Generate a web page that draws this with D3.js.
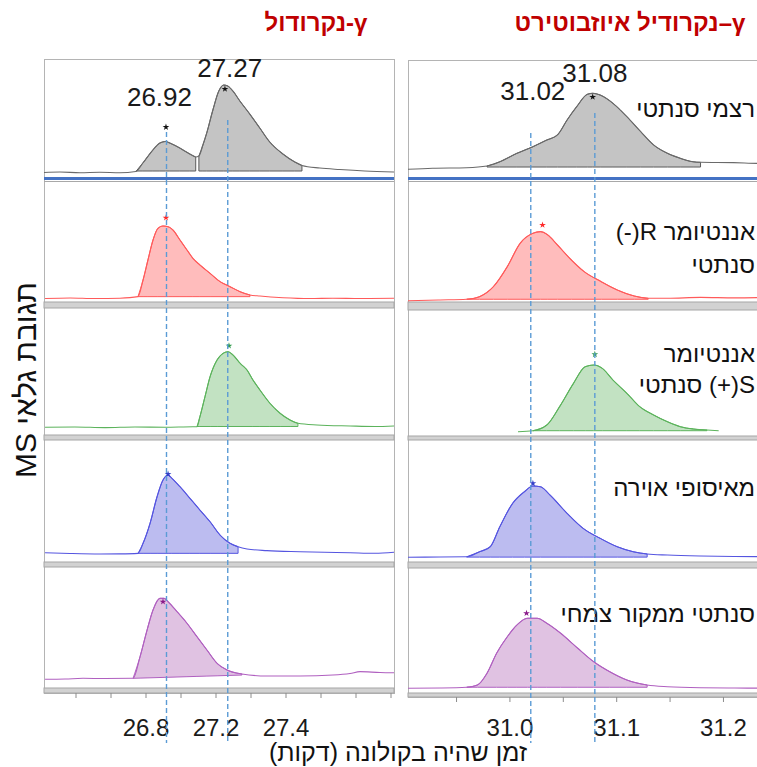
<!DOCTYPE html>
<html>
<head>
<meta charset="utf-8">
<script src="https://cdn.jsdelivr.net/npm/d3@7"></script>
<style>
  body { margin: 0; background: #fff; }
  svg { display: block; font-family: "Liberation Sans", Arial, "DejaVu Sans", sans-serif; }
</style>
</head>
<body>
<svg id="chart" width="757" height="767"></svg>
<script>
// ---------- data: retention time (min) vs. relative detector response ----------
// γ-nonalactone (left column)
const ndRacemic = [[26.22,3.0],[26.311,3.4],[26.426,2.8],[26.539,3.2],[26.654,2.8],[26.745,3.9],[26.785,11.2],[26.842,22.4],[26.882,28.4],[26.915,29.8],[26.939,28.4],[26.996,24.1],[27.053,19.0],[27.087,16.4],[27.105,17.2],[27.128,26.7],[27.150,37.1],[27.185,56.9],[27.219,73.3],[27.247,78.4],[27.270,77.6],[27.299,73.3],[27.339,64.7],[27.396,53.4],[27.453,41.4],[27.510,29.3],[27.585,19.0],[27.653,12.1],[27.694,9.1],[27.796,6.9],[27.910,5.6],[28.053,4.3],[28.22,3.4]];
const ndR = [[26.226,2.9],[26.369,3.4],[26.511,2.9],[26.654,3.2],[26.757,4.5],[26.786,18.5],[26.814,35.3],[26.843,52.1],[26.871,61.9],[26.900,63.9],[26.929,63.3],[26.957,60.5],[26.997,52.1],[27.037,43.7],[27.071,36.7],[27.111,31.1],[27.169,24.1],[27.226,17.1],[27.283,12.9],[27.340,8.7],[27.397,5.9],[27.454,5.0],[27.586,3.6],[27.740,2.9],[27.871,3.2],[28.026,2.9],[28.22,3.1]];
const ndS = [[26.226,6.1],[26.397,6.3],[26.569,5.8],[26.740,6.3],[26.911,6.1],[27.071,6.5],[27.094,6.5],[27.111,14.4],[27.140,30.2],[27.169,45.9],[27.209,59.1],[27.243,64.3],[27.271,65.6],[27.300,63.0],[27.340,56.5],[27.380,51.2],[27.414,43.3],[27.454,35.4],[27.511,25.0],[27.569,17.1],[27.626,11.8],[27.671,9.2],[27.780,7.9],[27.969,7.1],[28.111,6.7],[28.22,7.1]];
const ndAir = [[26.226,7.6],[26.369,7.0],[26.540,6.6],[26.654,6.7],[26.757,7.1],[26.786,15.3],[26.826,31.7],[26.866,53.5],[26.900,67.2],[26.929,71.3],[26.951,68.6],[26.997,61.7],[27.054,52.2],[27.111,42.6],[27.169,33.0],[27.226,22.1],[27.283,15.3],[27.329,12.5],[27.380,10.7],[27.494,9.3],[27.683,8.4],[27.969,7.6],[28.111,7.2],[28.22,8.0]];
const ndPlant = [[26.226,7.2],[26.340,7.4],[26.443,8.0],[26.569,7.8],[26.729,8.0],[26.769,25.9],[26.809,47.9],[26.843,64.5],[26.883,74.1],[26.906,74.1],[26.929,71.3],[26.980,63.1],[27.037,53.5],[27.094,42.4],[27.151,31.4],[27.209,20.4],[27.266,14.9],[27.351,11.6],[27.494,9.9],[27.683,9.9],[27.871,10.7],[27.969,12.0],[28.026,13.5],[28.140,12.8],[28.22,12.6]];

// γ-nonalactone isobutyrate (right column)
const nbRacemic = [[30.905,5.8],[30.928,6.7],[30.960,7.2],[30.979,8.7],[30.991,12.4],[31.007,19.7],[31.022,25.5],[31.035,31.3],[31.045,35.7],[31.054,48.7],[31.063,60.3],[31.073,71.0],[31.078,71.9],[31.085,70.4],[31.097,63.2],[31.110,51.6],[31.123,38.5],[31.135,27.0],[31.148,19.7],[31.160,15.4],[31.172,12.4],[31.179,11.9],[31.210,11.6],[31.232,11.0],[31.245,10.9]];
const nbR = [[30.905,1.1],[30.935,1.7],[30.960,2.3],[30.972,4.5],[30.985,12.9],[30.998,29.7],[31.010,49.3],[31.022,57.7],[31.029,59.1],[31.036,56.3],[31.045,47.9],[31.058,35.3],[31.070,25.5],[31.086,17.1],[31.101,10.1],[31.117,5.0],[31.130,3.1],[31.148,3.1],[31.179,3.9],[31.211,3.5],[31.245,3.9]];
const nbS = [[31.008,3.4],[31.022,4.2],[31.035,8.7],[31.047,23.3],[31.060,41.8],[31.071,55.0],[31.079,56.3],[31.087,53.7],[31.097,44.4],[31.110,33.9],[31.122,23.3],[31.135,16.7],[31.148,11.3],[31.160,7.4],[31.172,5.6],[31.185,4.8],[31.196,4.2]];
const nbAir = [[30.905,3.9],[30.935,4.1],[30.960,4.3],[30.972,8.4],[30.982,12.5],[30.991,28.9],[31.003,48.1],[31.014,57.6],[31.022,62.3],[31.029,61.7],[31.038,54.9],[31.054,39.9],[31.069,27.6],[31.085,19.4],[31.101,12.5],[31.116,8.4],[31.129,6.6],[31.148,5.7],[31.179,4.9],[31.211,4.5],[31.245,4.3]];
const nbPlant = [[30.905,3.8],[30.935,4.0],[30.960,4.6],[30.970,6.4],[30.979,15.8],[30.988,31.8],[30.998,45.0],[31.007,54.4],[31.017,59.8],[31.026,59.8],[31.035,55.8],[31.048,47.8],[31.064,35.8],[31.079,25.0],[31.094,17.0],[31.110,10.4],[31.129,6.4],[31.148,5.0],[31.179,4.2],[31.211,4.0],[31.245,3.8]];

// integration windows: [start, end, baseline at start, baseline at end]
const ndRacemicFill = [[26.745,27.087,4.3,4.3],[27.105,27.694,4.3,4.3]];
const ndRFill = [[26.757,27.397,4.5,4.5]];
const ndSFill = [[27.094,27.671,6.7,6.7]];
const ndAirFill = [[26.757,27.329,7.1,7.1]];
const ndPlantFill = [[26.729,27.351,8.0,10.7]];
const nbRacemicFill = [[30.979,31.179,7.8,7.8]];
const nbRFill = [[30.960,31.130,2.3,2.3]];
const nbSFill = [[31.022,31.185,4.2,4.2]];
const nbAirFill = [[30.960,31.129,4.0,4.0]];
const nbPlantFill = [[30.960,31.129,4.6,4.6]];

// detected apex markers [time, response]
const ndRacemicApex = [[26.917,42.2],[27.254,75.0]];
const ndRApex = [[26.917,70.8]];
const ndSApex = [[27.277,70.3]];
const ndAirApex = [[26.929,72.1]];
const ndPlantApex = [[26.900,71.3]];
const nbRacemicApex = [[31.078,68.7]];
const nbRApex = [[31.031,64.7]];
const nbSApex = [[31.080,64.8]];
const nbAirApex = [[31.022,64.5]];
const nbPlantApex = [[31.016,63.8]];

// reference retention times of the racemic standards
const ndPeaks = [26.92, 27.27];
const nbPeaks = [31.02, 31.08];

// axis ticks
const ndMinorTicks = [26.4,26.6,26.8,27.0,27.2,27.4,27.6,27.8,28.0,28.2];
const ndLabelTicks = [26.8, 27.2, 27.6];
const ndTickLabels = ["26.8", "27.2", "27.4"];
const nbMinorTicks = [30.95,31.0,31.05,31.1,31.15,31.2,31.25];
const nbLabelTicks = [31.0, 31.1, 31.2];
const nbTickLabels = ["31.0", "31.1", "31.2"];

// sample names (right-hand labels), one or two lines per row
const sampleLabels = [["רצמי סנתטי"], ["אננטיומר R(-)", "סנתטי"], ["אננטיומר", "S(+) סנתטי"], ["מאיסופי אוירה"], ["סנתטי ממקור צמחי"]];

const titleLeft = "γ-נקרודול";
const titleRight = "γ–נקרודיל איוזבוטירט";
const yTitle = "תגובת גלאי MS";
const xTitle = "זמן שהיה בקולונה (דקות)";

// ---------- styling ----------
const rowStyles = [
  { line: "#6a6a6a", fill: "#c4c4c4", edge: "#5a5a5a", star: "#111" },
  { line: "#ff5a5a", fill: "#ffbcbc", edge: "#ff5a5a", star: "#ff2a2a" },
  { line: "#5cb35c", fill: "#c2e2c2", edge: "#5cb35c", star: "#2f9a4a" },
  { line: "#5555e0", fill: "#bcbcf0", edge: "#5555e0", star: "#3340c8" },
  { line: "#b060c0", fill: "#e0c2e2", edge: "#b060c0", star: "#8a1a8a" }
];

// ---------- layout ----------
const svg = d3.select("#chart");

const columns = [
  {
    x0: 44, x1: 394, domain: [26.22, 28.22],
    rows: [[60,176],[183,302],[308,435],[440,562],[567,688]], axisY: 693,
    traces: [ndRacemic, ndR, ndS, ndAir, ndPlant],
    fills: [ndRacemicFill, ndRFill, ndSFill, ndAirFill, ndPlantFill],
    apex: [ndRacemicApex, ndRApex, ndSApex, ndAirApex, ndPlantApex],
    peaks: ndPeaks, peakLabelDx: [-7, 2], peakLabelY: [106, 77], dashTop: [132, 120],
    minor: ndMinorTicks, labelTicks: ndLabelTicks, tickLabels: ndTickLabels,
    title: titleLeft, titleX: 316
  },
  {
    x0: 408, x1: 771, domain: [30.905, 31.245],
    rows: [[61,176],[183,302],[310,436],[440,562],[568,693]], axisY: 697,
    traces: [nbRacemic, nbR, nbS, nbAir, nbPlant],
    fills: [nbRacemicFill, nbRFill, nbSFill, nbAirFill, nbPlantFill],
    apex: [nbRacemicApex, nbRApex, nbSApex, nbAirApex, nbPlantApex],
    peaks: nbPeaks, peakLabelDx: [2, 0], peakLabelY: [100, 82], dashTop: [133, 113],
    minor: nbMinorTicks, labelTicks: nbLabelTicks, tickLabels: nbTickLabels,
    title: titleRight, titleX: 630
  }
];

const gFrames = svg.append("g");
const gMarks = svg.append("g");
const gText = svg.append("g");
const gDash = svg.append("g");

columns.forEach(col => {
  const x = d3.scaleLinear().domain(col.domain).range([col.x0, col.x1]);
  const top = col.rows[0][0] - 1;

  // outer frame
  gFrames.append("rect")
    .attr("x", col.x0 + 0.5).attr("y", top + 0.5)
    .attr("width", col.x1 - col.x0).attr("height", col.axisY - top)
    .attr("fill", "#fff").attr("stroke", "#b4b4b4").attr("stroke-width", 1);

  // separators between stacked chromatograms
  for (let i = 1; i < col.rows.length; i++) {
    const y0 = col.rows[i - 1][1], y1 = col.rows[i][0];
    if (i === 1) {
      gFrames.append("line").attr("x1", col.x0).attr("x2", col.x1)
        .attr("y1", y0 + 2.5).attr("y2", y0 + 2.5)
        .attr("stroke", "#4472c4").attr("stroke-width", 3);
      gFrames.append("line").attr("x1", col.x0).attr("x2", col.x1)
        .attr("y1", y1 - 1.5).attr("y2", y1 - 1.5)
        .attr("stroke", "#a8a8a8").attr("stroke-width", 1);
    } else {
      gFrames.append("rect").attr("x", col.x0).attr("y", y0)
        .attr("width", col.x1 - col.x0).attr("height", y1 - y0)
        .attr("fill", "#d2d2d2").attr("stroke", "#a6a6a6").attr("stroke-width", 1);
    }
  }
  // bottom bar
  gFrames.append("rect").attr("x", col.x0).attr("y", col.rows[4][1])
    .attr("width", col.x1 - col.x0).attr("height", col.axisY - col.rows[4][1])
    .attr("fill", "#d2d2d2").attr("stroke", "#a6a6a6").attr("stroke-width", 1);

  // traces
  col.rows.forEach((r, i) => {
    const y = d3.scaleLinear().domain([0, 100]).range([r[1], r[0]]);
    const st = rowStyles[i];
    const data = col.traces[i];

    col.fills[i].forEach(([t0, t1, b0, b1]) => {
      const seg = data.filter(d => d[0] >= t0 - 1e-6 && d[0] <= t1 + 1e-6);
      const base = t => b0 + (b1 - b0) * (t - t0) / (t1 - t0);
      const area = d3.area()
        .x(d => x(d[0])).y1(d => y(d[1])).y0(d => y(base(d[0])))
        .curve(d3.curveMonotoneX);
      gMarks.append("path").attr("d", area(seg))
        .attr("fill", st.fill).attr("stroke", st.edge).attr("stroke-width", 1)
        .attr("stroke-linejoin", "miter");
    });

    const line = d3.line().x(d => x(d[0])).y(d => y(d[1])).curve(d3.curveMonotoneX);
    gMarks.append("path").attr("d", line(data))
      .attr("fill", "none").attr("stroke", st.line).attr("stroke-width", 1.1);

    col.apex[i].forEach(([t, v]) => {
      gMarks.append("path")
        .attr("d", d3.symbol().type(d3.symbolStar).size(14)())
        .attr("transform", `translate(${x(t)},${y(v)})`)
        .attr("fill", st.star);
    });
  });

  // x axis: minor ticks
  const axMinor = gFrames.append("g").attr("transform", `translate(0,${col.axisY})`)
    .call(d3.axisBottom(x).tickValues(col.minor).tickSize(5).tickFormat(""));
  axMinor.select(".domain").remove();
  axMinor.selectAll("line").attr("stroke", "#8c8c8c");

  // x axis: labelled positions
  const axLab = gText.append("g").attr("transform", `translate(0,${col.axisY})`)
    .call(d3.axisBottom(x).tickValues(col.labelTicks).tickSize(0)
      .tickFormat((d, i) => col.tickLabels[i]));
  axLab.select(".domain").remove();
  axLab.selectAll("text")
    .attr("y", 736 - col.axisY).attr("dy", 0)
    .attr("font-size", 24).attr("fill", "#1a1a1a")
    .attr("font-family", '"Liberation Sans", Arial, sans-serif');

  // peak retention-time labels and guide lines
  col.peaks.forEach((p, k) => {
    gText.append("text")
      .attr("x", x(p) + col.peakLabelDx[k]).attr("y", col.peakLabelY[k])
      .attr("text-anchor", "middle").attr("font-size", 26).attr("fill", "#1a1a1a")
      .text(p.toFixed(2));
    gDash.append("line")
      .attr("x1", x(p)).attr("x2", x(p))
      .attr("y1", col.dashTop[k]).attr("y2", 743)
      .attr("stroke", "#5b9bd5").attr("stroke-width", 1.4)
      .attr("stroke-dasharray", "5,3");
  });

  // column title
  gText.append("text")
    .attr("x", col.titleX).attr("y", 31)
    .attr("text-anchor", "middle").attr("direction", "rtl")
    .attr("font-size", 24).attr("font-weight", "bold").attr("fill", "#c00000")
    .text(col.title);
});

// sample labels (right edge of the right column)
const labelEndX = 755;
const labelBaselines = [[117], [240, 273], [362, 393], [496], [622]];
sampleLabels.forEach((lines, i) => {
  lines.forEach((s, j) => {
    gText.append("text")
      .attr("x", labelEndX).attr("y", labelBaselines[i][j])
      .attr("direction", "rtl").attr("text-anchor", "start")
      .attr("font-size", 24).attr("fill", "#111")
      .text(s);
  });
});

// axis titles
gText.append("text")
  .attr("transform", "translate(36,380) rotate(-90)")
  .attr("text-anchor", "middle").attr("direction", "rtl")
  .attr("font-size", 30).attr("fill", "#111")
  .text(yTitle);

gText.append("text")
  .attr("x", 398).attr("y", 761)
  .attr("text-anchor", "middle").attr("direction", "rtl")
  .attr("font-size", 25).attr("fill", "#111")
  .text(xTitle);
</script>
</body>
</html>
